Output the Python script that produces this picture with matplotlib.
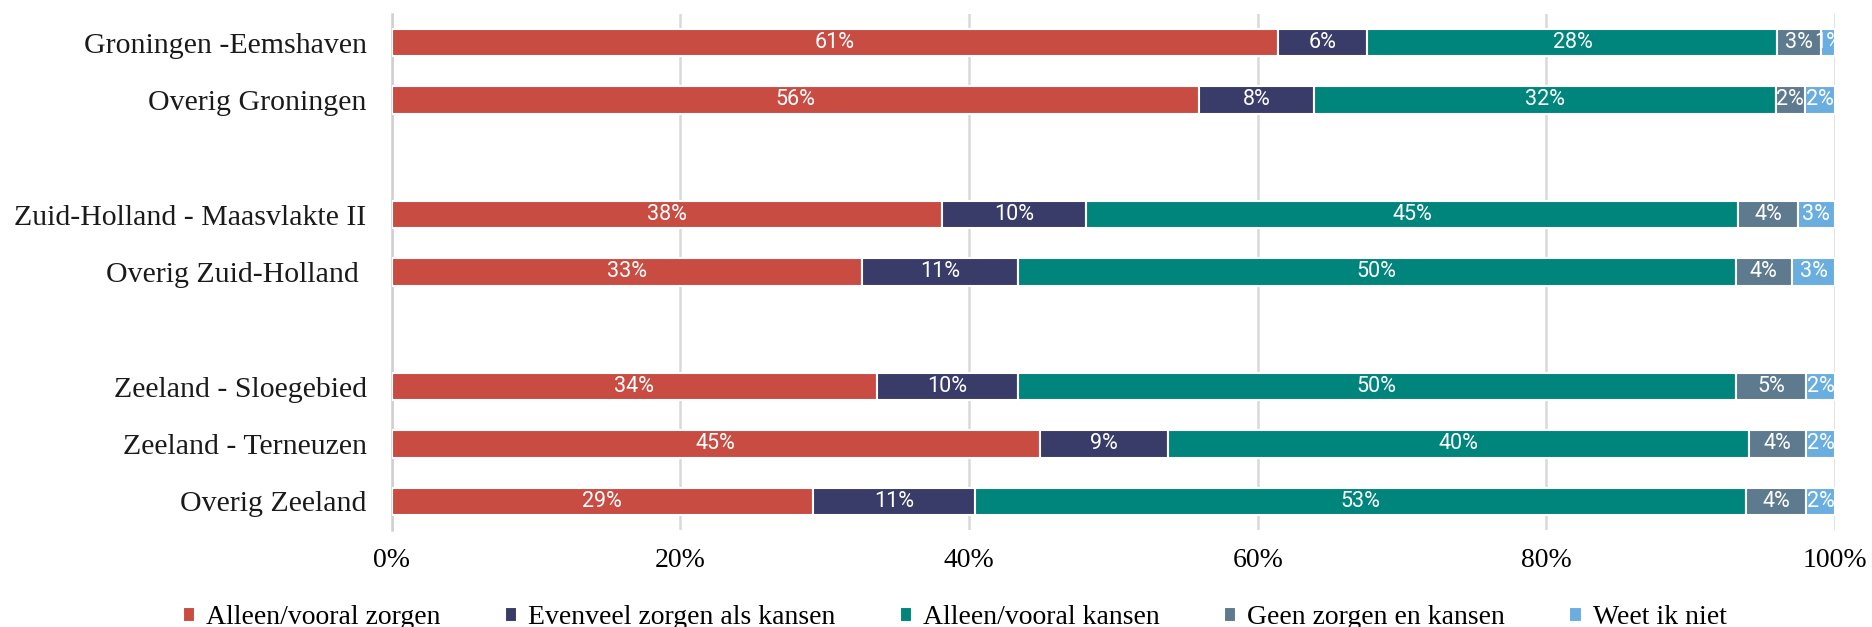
import numpy as np
import matplotlib
matplotlib.use("Agg")
import matplotlib.pyplot as plt

regions = ["Groningen -Eemshaven", "Overig Groningen", "Zuid-Holland - Maasvlakte II",
           "Overig Zuid-Holland ", "Zeeland - Sloegebied", "Zeeland - Terneuzen", "Overig Zeeland"]
row_pos = [0, 1, 3, 4, 6, 7, 8]

series = ["Alleen/vooral zorgen", "Evenveel zorgen als kansen", "Alleen/vooral kansen",
          "Geen zorgen en kansen", "Weet ik niet"]
zorgen = [61.4, 55.9, 38.1, 32.6, 33.6, 44.9, 29.2]
evenveel = [6.2, 8.0, 10.0, 10.8, 9.8, 8.9, 11.2]
kansen = [28.4, 32.0, 45.2, 49.7, 49.7, 40.2, 53.4]
geen = [3.0, 2.0, 4.1, 3.9, 4.9, 4.0, 4.2]
weet_niet = [1.0, 2.1, 2.6, 3.0, 2.0, 2.0, 2.0]

colours = ["#c94c43", "#393b68", "#00857c", "#5e7a8e", "#6aaee0"]

fig = plt.figure(figsize=(18.72, 6.27), dpi=100)
ax = fig.add_axes([0.2092, 0.1547, 0.7711, 0.823])

left = np.zeros(len(regions))
for name, vals, col in zip(series, [zorgen, evenveel, kansen, geen, weet_niet], colours):
    vals = np.array(vals)
    bars = ax.barh(row_pos, vals, left=left, height=0.48, color=col, edgecolor="white",
                   linewidth=1.5, label=name, zorder=3)
    for b, v in zip(bars, vals):
        ax.text(b.get_x() + b.get_width() / 2, b.get_y() + b.get_height() / 2,
                f"{v:.0f}%", ha="center", va="center", color="white",
                fontsize=15.5, family="Roboto", zorder=4, clip_on=True)
    left += vals

ax.set_xlim(0, 100)
ax.set_ylim(8.5, -0.5)
ax.set_xticks([0, 20, 40, 60, 80, 100])
ax.set_xticklabels(["0%", "20%", "40%", "60%", "80%", "100%"], family="Liberation Serif", fontsize=20)
ax.set_yticks(row_pos)
ax.set_yticklabels(regions, family="Liberation Serif", fontsize=21.5, color="#1a1a1a")
ax.tick_params(length=0, pad=18, axis="y")
ax.tick_params(length=0, pad=13, axis="x")
ax.grid(axis="x", color="#d9d9d9", linewidth=1.8, zorder=0)
for s in ["top", "right", "bottom"]:
    ax.spines[s].set_visible(False)
ax.spines["left"].set_color("#d0d0d0")
ax.spines["left"].set_linewidth(1.8)

fig.legend(loc="lower center", bbox_to_anchor=(0.51, -0.045), ncol=5, frameon=False,
           prop={"family": "Liberation Serif", "size": 20}, handlelength=0.45, handleheight=0.45,
           handletextpad=0.4, columnspacing=2.3)

fig.savefig("out.png", dpi=100)
